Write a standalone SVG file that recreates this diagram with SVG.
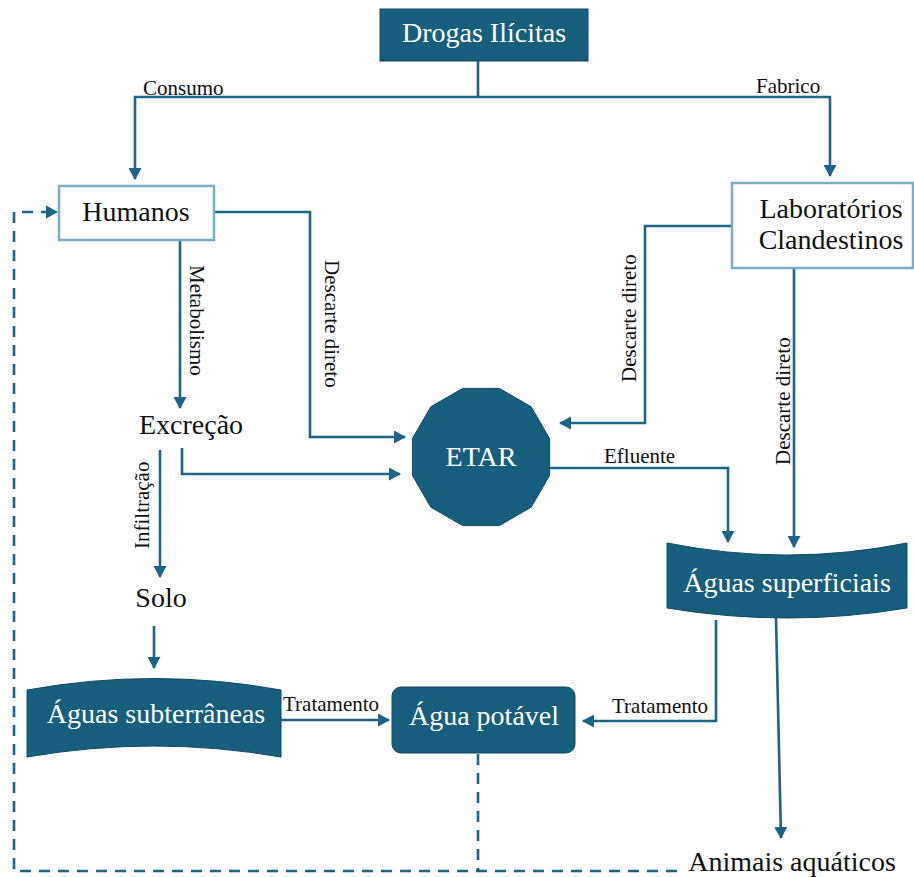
<svg xmlns="http://www.w3.org/2000/svg" width="914" height="877" viewBox="0 0 914 877">
<style>
.dark{fill:#175e7d;stroke:#114a63;stroke-width:1}
.light{fill:#fff;stroke:#7badc6;stroke-width:2.5}
.big{font-family:"Liberation Serif","Times New Roman",serif;font-size:28px;text-anchor:middle}
.wt{fill:#fff}
.bk{fill:#111}
.lbl{font-family:"Liberation Serif","Times New Roman",serif;font-size:21px;fill:#111}
.ln{fill:none;stroke:#1c6586;stroke-width:2.6}
.arr{marker-end:url(#ah)}
.dash{fill:none;stroke:#1c6586;stroke-width:2.6;stroke-dasharray:11 8}
</style>
<defs>
<marker id="ah" viewBox="0 0 12 13" refX="11" refY="6.5" markerWidth="12" markerHeight="13" markerUnits="userSpaceOnUse" orient="auto">
<path d="M0,0 L12,6.5 L0,13 Z" fill="#1c6586"/>
</marker>
</defs>
<rect width="914" height="877" fill="#fff"/>
<g id="connectors">
<path class="ln" d="M478,61 V97"/>
<path class="ln arr" d="M478,97 H135 V179"/>
<path class="ln arr" d="M478,97 H830 V176"/>
<path class="ln arr" d="M214,212 H310 V437 H405"/>
<path class="ln arr" d="M180,240 V408"/>
<path class="ln arr" d="M182,448 V474 H400"/>
<path class="ln arr" d="M160,450 V577"/>
<path class="ln arr" d="M154,626 V668"/>
<path class="ln arr" d="M281,720 H389"/>
<path class="ln arr" d="M732,226 H645 V423 H560"/>
<path class="ln arr" d="M794,268 V547"/>
<path class="ln arr" d="M550,468 H728 V542"/>
<path class="ln arr" d="M716,620 V721 H583"/>
<path class="ln arr" d="M776,618 L781,838"/>
<path class="dash arr" d="M677,871 H14 V212 H57"/>
<path class="dash" d="M478,754 V871"/>
<text class="lbl" x="143" y="95">Consumo</text>
<text class="lbl" x="756" y="93">Fabrico</text>
<text class="lbl" transform="translate(190,265) rotate(90)">Metabolismo</text>
<text class="lbl" transform="translate(325,260) rotate(90)">Descarte direto</text>
<text class="lbl" transform="translate(636,382) rotate(-90)">Descarte direto</text>
<text class="lbl" transform="translate(790,465) rotate(-90)">Descarte direto</text>
<text class="lbl" transform="translate(149,549) rotate(-90)">Infiltração</text>
<text class="lbl" x="604" y="463">Efluente</text>
<text class="lbl" x="283" y="711">Tratamento</text>
<text class="lbl" x="612" y="713">Tratamento</text>
</g>
<g id="drogas">
<rect class="dark" x="380" y="9" width="208" height="52"/>
<text class="big wt" x="484" y="42">Drogas Ilícitas</text>
</g>
<g id="humanos">
<rect class="light" x="59" y="186" width="155" height="54"/>
<text class="big bk" x="136" y="221">Humanos</text>
</g>
<g id="laboratorios">
<rect class="light" x="732" y="183" width="181" height="85"/>
<text class="big bk" x="831" y="218">Laboratórios</text>
<text class="big bk" x="831" y="249">Clandestinos</text>
</g>
<g id="excrecao">
<text class="big bk" x="191" y="434">Excreção</text>
</g>
<g id="solo">
<text class="big bk" x="161" y="607">Solo</text>
</g>
<g id="etar">
<polygon class="dark" points="549.6,475.4 531.2,507.2 499.4,525.6 462.6,525.6 430.8,507.2 412.4,475.4 412.4,438.6 430.8,406.8 462.6,388.4 499.4,388.4 531.2,406.8 549.6,438.6"/>
<text class="big wt" x="481" y="466">ETAR</text>
</g>
<g id="aguas-superficiais">
<path class="dark" d="M667,543 Q787,567 907,543 L907,608 Q787,628 667,608 Z"/>
<text class="big wt" x="787" y="592">Águas superficiais</text>
</g>
<g id="aguas-subterraneas">
<path class="dark" d="M27,690 Q154,667 281,690 L281,757 Q154,735 27,757 Z"/>
<text class="big wt" x="156" y="723">Águas subterrâneas</text>
</g>
<g id="agua-potavel">
<rect class="dark" x="392" y="687" width="183" height="66" rx="9"/>
<text class="big wt" x="484" y="725">Água potável</text>
</g>
<g id="animais">
<text class="big bk" x="792" y="871">Animais aquáticos</text>
</g>
</svg>
